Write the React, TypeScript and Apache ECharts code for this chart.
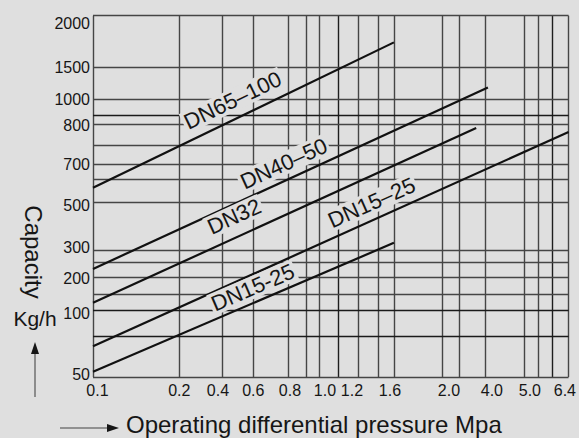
import React, { useEffect, useRef } from "react";
import * as echarts from "echarts";

// ---- data ----
const PRESSURE_TICKS = [0.1, 0.2, 0.4, 0.6, 0.8, 1.0, 1.2, 1.6, 2.0, 4.0, 5.0, 6.4];
const PRESSURE_LABELS = ["0.1", "0.2", "0.4", "0.6", "0.8", "1.0", "1.2", "1.6", "2.0", "4.0", "5.0", "6.4"];
const CAPACITY_TICKS = [50, 100, 200, 300, 500, 700, 800, 1000, 1500, 2000];
const CAPACITY_LABELS = ["50", "100", "200", "300", "500", "700", "800", "1000", "1500", "2000"];

const LINE_NAMES = ["DN65–100", "DN40–50", "DN32", "DN15–25", "DN15-25"];
const LINE_PRESSURE = [
  [0.1, 1.6],
  [0.1, 4.0],
  [0.1, 3.4],
  [0.1, 6.4],
  [0.1, 1.6],
];
const LINE_CAPACITY = [
  [575, 1740],
  [230, 1180],
  [122, 790],
  [73, 780],
  [54, 330],
];

// ---- layout (axis units = pixels inside the plot) ----
const PLOT_W = 475.7;
const PLOT_H = 361.3;
const X_TICK_POS = [0, 86.3, 129.7, 160.3, 195.7, 229, 259, 301, 356, 395, 437, 475.7];
const X_LABEL_POS = [4.5, 86.3, 125, 160.3, 197, 232, 259, 297, 356, 399, 437, 472];
const Y_TICK_POS = [361.3, 294.3, 261.3, 234.3, 186.3, 148.3, 108.3, 83.3, 51.3, 0];
const Y_LABEL_POS = [359, 298, 263, 232, 190, 148.3, 110, 84, 51.3, 8];
const X_GRID_POS = [0, 86.3, 129.7, 160.3, 195.7, 213, 226, 245.3, 265.3, 285.3, 301, 349.3, 366, 392.7, 431, 445.7, 459.3, 475.7];
const X_GRID_DARK = [245.3, 459.3];
const Y_GRID_POS = [0, 51.3, 83.3, 99.8, 108.3, 129.3, 148.3, 163.3, 186.3, 234.3, 246.3, 261.3, 278.3, 294.3, 320.3, 361.3];
const Y_GRID_DARK = [99.8, 294.3, 320.3];
const LABEL_AT = [0.49, 0.5, 0.39, 0.6, 0.55];
const LABEL_LIFT = [18, 16, 20, 16.5, 14.5];

const BG = "#dfdfdf";
const INK = "#161616";
const FONT = "'Liberation Sans', Arial, sans-serif";

function interp(v: number, vals: number[], pos: number[]): number {
  for (let i = 0; i < vals.length - 1; i++) {
    if (v <= vals[i + 1] || i === vals.length - 2) {
      const t = (v - vals[i]) / (vals[i + 1] - vals[i]);
      return pos[i] + t * (pos[i + 1] - pos[i]);
    }
  }
  return pos[0];
}
const px = (p: number) => interp(p, PRESSURE_TICKS, X_TICK_POS);
const py = (c: number) => interp(c, CAPACITY_TICKS, Y_TICK_POS);

function nearestLabel(v: number, pos: number[], labels: string[]) {
  let best = 0;
  for (let i = 1; i < pos.length; i++) if (Math.abs(pos[i] - v) < Math.abs(pos[best] - v)) best = i;
  return labels[best];
}

export default function App() {
  const ref = useRef<HTMLDivElement>(null);
  useEffect(() => {
    if (!ref.current) return;
    const chart = echarts.init(ref.current, undefined, { renderer: "svg" });

    const lineSeries = LINE_NAMES.map((name, i) => ({
      type: "line",
      name,
      data: LINE_PRESSURE[i].map((p, j) => [px(p), py(LINE_CAPACITY[i][j])]),
      showSymbol: false,
      symbol: "none",
      lineStyle: { color: "#111", width: 2.2 },
      z: 5,
      silent: true,
    }));

    const labelData = LINE_NAMES.map((name, i) => {
      const x0 = px(LINE_PRESSURE[i][0]);
      const x1 = px(LINE_PRESSURE[i][1]);
      const y0 = py(LINE_CAPACITY[i][0]);
      const y1 = py(LINE_CAPACITY[i][1]);
      const a = Math.atan2(y0 - y1, x1 - x0);
      const t = LABEL_AT[i];
      const x = x0 + t * (x1 - x0) - LABEL_LIFT[i] * Math.sin(a);
      const y = y0 + t * (y1 - y0) - LABEL_LIFT[i] * Math.cos(a);
      return {
        value: [x, y],
        name,
        label: { rotate: (a * 180) / Math.PI },
      };
    });

    const gridMarks = [
      ...X_GRID_POS.map((v) => ({
        xAxis: v,
        lineStyle: { color: X_GRID_DARK.includes(v) ? "#1e1e1e" : "#454545", width: 1.4, type: "solid" },
      })),
      ...Y_GRID_POS.map((v) => ({
        yAxis: v,
        lineStyle: { color: Y_GRID_DARK.includes(v) ? "#1a1a1a" : "#454545", width: 1.4, type: "solid" },
      })),
    ];

    chart.setOption({
      animation: false,
      backgroundColor: BG,
      grid: { left: 93, right: 579 - 93 - PLOT_W, top: 15.7, bottom: 438 - 15.7 - PLOT_H, containLabel: false },
      xAxis: {
        type: "value",
        min: 0,
        max: PLOT_W,
        axisLine: { show: false },
        axisTick: { show: false },
        splitLine: { show: false },
        axisLabel: {
          customValues: X_LABEL_POS,
          formatter: (v: number) => nearestLabel(v, X_LABEL_POS, PRESSURE_LABELS),
          color: INK,
          fontSize: 16,
          fontFamily: FONT,
          margin: 5,
        },
      },
      yAxis: {
        type: "value",
        inverse: true,
        min: 0,
        max: PLOT_H,
        axisLine: { show: false },
        axisTick: { show: false },
        splitLine: { show: false },
        axisLabel: {
          customValues: Y_LABEL_POS,
          formatter: (v: number) => nearestLabel(v, Y_LABEL_POS, CAPACITY_LABELS),
          color: INK,
          fontSize: 16,
          fontFamily: FONT,
          margin: 3,
        },
      },
      series: [
        {
          type: "line",
          data: [],
          silent: true,
          markLine: {
            silent: true,
            symbol: ["none", "none"],
            label: { show: false },
            data: gridMarks,
          },
          z: 2,
        },
        ...lineSeries,
        {
          type: "scatter",
          symbolSize: 0,
          data: labelData,
          silent: true,
          z: 10,
          itemStyle: { opacity: 1 },
          label: {
            show: true,
            position: "inside",
            formatter: (p: any) => p.name,
            color: INK,
            fontSize: 22,
            fontFamily: FONT,
            backgroundColor: BG,
            padding: [0, 2],
          },
        },
      ],
      graphic: [
        {
          type: "text",
          x: 33,
          y: 252,
          rotation: -Math.PI / 2,
          style: { text: "Capacity", fill: INK, font: `24px ${FONT}`, align: "center", verticalAlign: "middle" },
        },
        {
          type: "text",
          x: 35,
          y: 318,
          style: { text: "Kg/h", fill: INK, font: `21px ${FONT}`, align: "center", verticalAlign: "middle" },
        },
        { type: "line", shape: { x1: 35, y1: 397, x2: 35, y2: 352 }, style: { stroke: "#555", lineWidth: 1.2 } },
        { type: "polygon", shape: { points: [[35, 342], [31, 354], [39, 354]] }, style: { fill: INK } },
        { type: "line", shape: { x1: 60, y1: 428, x2: 108, y2: 428 }, style: { stroke: "#444", lineWidth: 1.2 } },
        { type: "polygon", shape: { points: [[119, 428], [107, 424], [107, 432]] }, style: { fill: INK } },
        {
          type: "text",
          x: 126,
          y: 424,
          style: {
            text: "Operating differential pressure Mpa",
            fill: INK,
            font: `24px ${FONT}`,
            align: "left",
            verticalAlign: "middle",
          },
        },
      ],
    });
    return () => chart.dispose();
  }, []);
  return <div ref={ref} style={{ position: "fixed", left: 0, top: 0, width: 579, height: 438 }} />;
}
